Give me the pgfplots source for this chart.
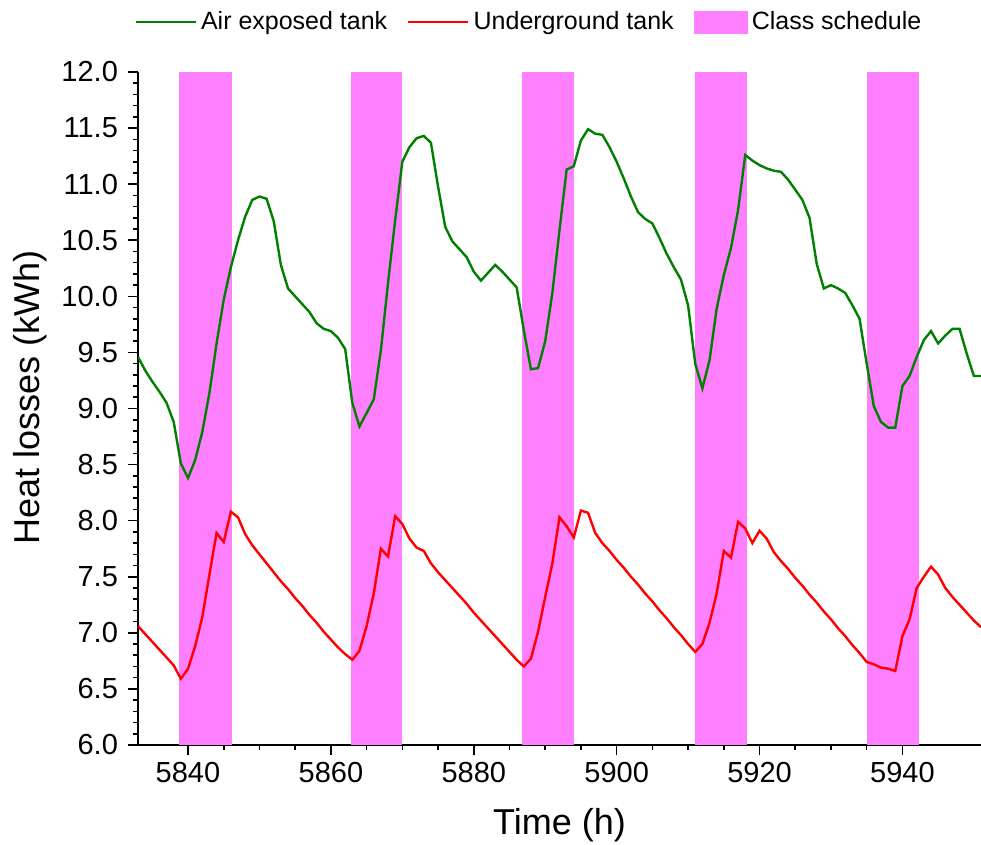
\documentclass[border=0pt]{standalone}
\usepackage{fontspec}
\setmainfont{Liberation Sans}
\usepackage{pgfplots}
\pgfplotsset{compat=1.18}
\definecolor{airgreen}{HTML}{008000}
\definecolor{ugred}{HTML}{FF0000}
\definecolor{classpink}{HTML}{FF80FF}
\pgfplotsset{
  longline/.style={legend image code/.code={\draw[##1] (0pt,0pt) -- (30pt,0pt);}},
  pinkbox/.style={legend image code/.code={\fill[##1] (0pt,-5.75pt) rectangle (27pt,5.75pt);}},
}

\begin{document}
\begin{tikzpicture}
\path[use as bounding box] (-69pt,-50pt) rectangle (421.5pt,372.5pt);
\begin{axis}[
  scale only axis, width=421.5pt, height=336.5pt,
  at={(0,0)}, anchor=south west,
  xmin=5833, xmax=5951, ymin=6, ymax=12,
  axis x line*=bottom, axis y line*=left,
  axis line style={line width=0.9pt},
  xtick={5840,5860,...,5940}, minor x tick num=3,
  ytick={6,6.5,...,12}, minor y tick num=4,
  tick align=outside,
  major tick length=5pt, minor tick length=2.5pt,
  every tick/.style={black, line width=0.8pt},
  /pgf/number format/assume math mode=true,
  xticklabel style={/pgf/number format/1000 sep={}},
  yticklabel style={/pgf/number format/.cd, fixed, fixed zerofill, precision=1,
    /tikz/.cd, xshift=-1.5pt},
  tick label style={font=\fontsize{14.5}{16}\selectfont},
  xlabel={Time (h)}, ylabel={Heat losses (kWh)},
  label style={font=\fontsize{18}{20}\selectfont},
  xlabel style={at={(axis description cs:0.5,-0.119)}, anchor=center},
  ylabel style={at={(axis description cs:-0.128,0.516)}, anchor=center},
  legend style={at={(axis description cs:0.465,1.074)}, anchor=center,
    draw=none, fill=none, legend columns=3,
    font=\fontsize{12.5}{14}\selectfont,
    /tikz/every even column/.append style={column sep=8pt}},
]
% class schedule blocks
\addplot[fill=classpink, draw=none, forget plot] coordinates {(5838.8,6) (5838.8,12) (5846.1,12) (5846.1,6)} -- cycle;
\addplot[fill=classpink, draw=none, forget plot] coordinates {(5862.8,6) (5862.8,12) (5870.0,12) (5870.0,6)} -- cycle;
\addplot[fill=classpink, draw=none, forget plot] coordinates {(5886.8,6) (5886.8,12) (5894.0,12) (5894.0,6)} -- cycle;
\addplot[fill=classpink, draw=none, forget plot] coordinates {(5911.0,6) (5911.0,12) (5918.2,12) (5918.2,6)} -- cycle;
\addplot[fill=classpink, draw=none, forget plot] coordinates {(5935.0,6) (5935.0,12) (5942.3,12) (5942.3,6)} -- cycle;

% air exposed tank
\addplot[airgreen, line width=1.2pt, mark=none, longline] coordinates {
(5833,9.46) (5834,9.34) (5835,9.24) (5836,9.15) (5837,9.05) (5838,8.88)
(5839,8.51) (5840,8.38) (5841,8.54) (5842,8.79) (5843,9.14) (5844,9.58)
(5845,9.97) (5846,10.26) (5847,10.50) (5848,10.71) (5849,10.86) (5850,10.89)
(5851,10.87) (5852,10.67) (5853,10.28) (5854,10.07) (5855,10.00) (5856,9.93)
(5857,9.86) (5858,9.76) (5859,9.71) (5860,9.69) (5861,9.63) (5862,9.53)
(5863,9.05) (5864,8.84) (5865,8.96) (5866,9.08) (5867,9.52) (5868,10.12)
(5869,10.68) (5870,11.20) (5871,11.33) (5872,11.41) (5873,11.43) (5874,11.37)
(5875,10.98) (5876,10.62) (5877,10.49) (5878,10.42) (5879,10.35) (5880,10.22)
(5881,10.14) (5882,10.21) (5883,10.28) (5884,10.22) (5885,10.15) (5886,10.08)
(5887,9.70) (5888,9.35) (5889,9.36) (5890,9.60) (5891,10.03) (5892,10.59)
(5893,11.13) (5894,11.16) (5895,11.39) (5896,11.49) (5897,11.45) (5898,11.44)
(5899,11.33) (5900,11.20) (5901,11.05) (5902,10.89) (5903,10.75) (5904,10.69)
(5905,10.65) (5906,10.52) (5907,10.38) (5908,10.26) (5909,10.15) (5910,9.92)
(5911,9.40) (5912,9.18) (5913,9.43) (5914,9.89) (5915,10.19) (5916,10.43)
(5917,10.77) (5918,11.26) (5919,11.21) (5920,11.17) (5921,11.14) (5922,11.12)
(5923,11.11) (5924,11.04) (5925,10.95) (5926,10.86) (5927,10.70) (5928,10.29)
(5929,10.07) (5930,10.10) (5931,10.07) (5932,10.03) (5933,9.92) (5934,9.80)
(5935,9.40) (5936,9.02) (5937,8.88) (5938,8.83) (5939,8.83) (5940,9.20)
(5941,9.29) (5942,9.46) (5943,9.61) (5944,9.69) (5945,9.58) (5946,9.65)
(5947,9.71) (5948,9.71) (5949,9.49) (5950,9.29) (5951,9.29)
};
\addlegendentry{Air exposed tank}

% underground tank
\addplot[ugred, line width=1.2pt, mark=none, longline] coordinates {
(5833,7.06) (5834,6.99) (5835,6.92) (5836,6.85) (5837,6.78) (5838,6.71)
(5839,6.59) (5840,6.68) (5841,6.88) (5842,7.14) (5843,7.52) (5844,7.89)
(5845,7.81) (5846,8.08) (5847,8.03) (5848,7.88) (5849,7.78) (5850,7.70)
(5851,7.62) (5852,7.54) (5853,7.46) (5854,7.39) (5855,7.31) (5856,7.24)
(5857,7.16) (5858,7.09) (5859,7.01) (5860,6.94) (5861,6.87) (5862,6.81)
(5863,6.76) (5864,6.84) (5865,7.06) (5866,7.35) (5867,7.75) (5868,7.68)
(5869,8.04) (5870,7.97) (5871,7.84) (5872,7.76) (5873,7.73) (5874,7.62)
(5875,7.54) (5876,7.47) (5877,7.40) (5878,7.33) (5879,7.26) (5880,7.18)
(5881,7.11) (5882,7.04) (5883,6.97) (5884,6.90) (5885,6.83) (5886,6.76)
(5887,6.70) (5888,6.77) (5889,7.01) (5890,7.32) (5891,7.62) (5892,8.03)
(5893,7.95) (5894,7.85) (5895,8.09) (5896,8.07) (5897,7.89) (5898,7.80)
(5899,7.73) (5900,7.65) (5901,7.58) (5902,7.50) (5903,7.43) (5904,7.35)
(5905,7.28) (5906,7.20) (5907,7.13) (5908,7.05) (5909,6.98) (5910,6.90)
(5911,6.83) (5912,6.90) (5913,7.09) (5914,7.35) (5915,7.73) (5916,7.67)
(5917,7.99) (5918,7.93) (5919,7.80) (5920,7.91) (5921,7.84) (5922,7.72)
(5923,7.64) (5924,7.57) (5925,7.49) (5926,7.42) (5927,7.34) (5928,7.27)
(5929,7.19) (5930,7.12) (5931,7.04) (5932,6.97) (5933,6.89) (5934,6.82)
(5935,6.74) (5936,6.72) (5937,6.69) (5938,6.68) (5939,6.66) (5940,6.97)
(5941,7.12) (5942,7.40) (5943,7.50) (5944,7.59) (5945,7.52) (5946,7.40)
(5947,7.32) (5948,7.25) (5949,7.18) (5950,7.11) (5951,7.05)
};
\addlegendentry{Underground tank}

\addlegendimage{area legend, fill=classpink, draw=none, pinkbox}
\addlegendentry{Class schedule}
\end{axis}
\end{tikzpicture}
\end{document}
